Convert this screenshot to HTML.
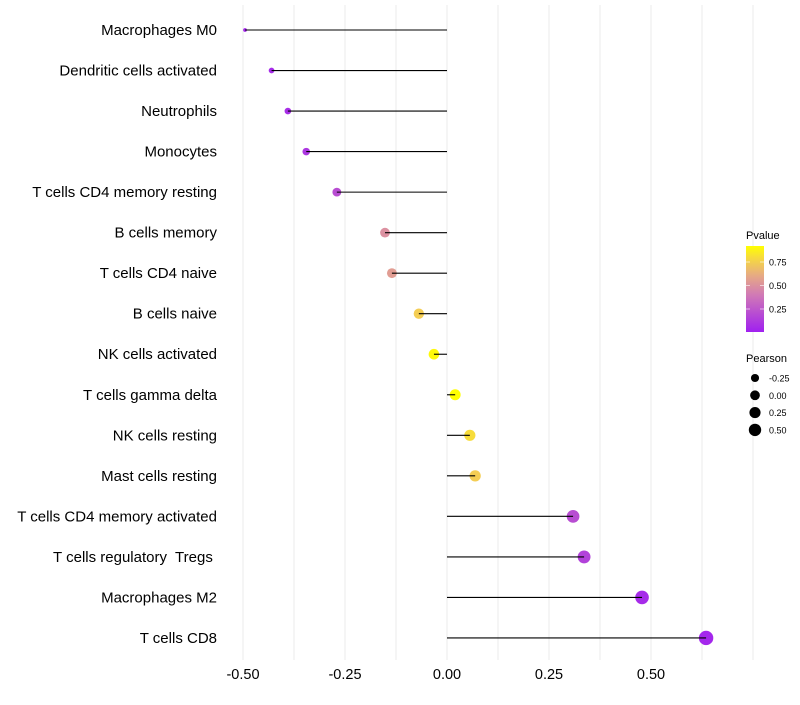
<!DOCTYPE html>
<html><head><meta charset="utf-8"><style>
body{margin:0;background:#fff;font-family:"Liberation Sans",sans-serif}
text{white-space:pre}
</style></head><body>
<svg id="c" width="800" height="700" style="font-family:'Liberation Sans',sans-serif"></svg>
<script>
const categories=["Macrophages M0","Dendritic cells activated","Neutrophils","Monocytes","T cells CD4 memory resting","B cells memory","T cells CD4 naive","B cells naive","NK cells activated","T cells gamma delta","NK cells resting","Mast cells resting","T cells CD4 memory activated","T cells regulatory  Tregs ","Macrophages M2","T cells CD8"];
const pearson=[-0.495,-0.43,-0.39,-0.345,-0.27,-0.152,-0.135,-0.069,-0.032,0.02,0.056,0.069,0.309,0.336,0.478,0.635];
const pvalue=[0.03,0.05,0.06,0.1,0.2,0.5,0.55,0.75,0.9,0.95,0.8,0.75,0.2,0.15,0.05,0.03];
const xTicks=[-0.5,-0.25,0,0.25,0.5];
const xTickLabels=["-0.50","-0.25","0.00","0.25","0.50"];
const colorTicks=[0.25,0.5,0.75];
const sizeTicks=[-0.25,0,0.25,0.5];
const sizeTickLabels=["-0.25","0.00","0.25","0.50"];

const NS="http://www.w3.org/2000/svg",svg=document.getElementById('c');
function mk(t,a,p){const e=document.createElementNS(NS,t);for(const k in a)e.setAttribute(k,a[k]);(p||svg).appendChild(e);return e;}
const xs=v=>447+v*408;
const ys=i=>30+i*40.53;
function rs(v){let a=v>=-0.27?30+36*(v-0.02):30+36*(-0.29)+71*(v+0.27);return Math.sqrt(Math.max(3,a));}
function lerp(a,b,t){return a.map((x,i)=>Math.round(x+(b[i]-x)*t));}
const PMAX=0.92;
function col(p){const q=Math.min(1,p/PMAX);const s=[[0,[160,32,240]],[0.5,[216,136,172]],[0.78,[242,196,100]],[1,[255,255,0]]];
 for(let i=1;i<s.length;i++)if(q<=s[i][0]){const t=(q-s[i-1][0])/(s[i][0]-s[i-1][0]);const c=lerp(s[i-1][1],s[i][1],t);return `rgb(${c})`;}
 return 'rgb(255,255,0)';}
for(let v=-0.5;v<=0.76;v+=0.125){const g=mk('line',{x1:xs(v),x2:xs(v),y1:5,y2:660,stroke:'#ebebeb','stroke-width':1});
}
categories.forEach((c,i)=>{
 const y=ys(i);
 const t=mk('text',{x:217,y:y+5,'text-anchor':'end','font-size':15,fill:'#000'});t.textContent=c;
 
 const d=mk('circle',{cx:xs(pearson[i]),cy:y,r:rs(pearson[i]),fill:col(pvalue[i])});
 
 const l=mk('line',{x1:xs(0),x2:xs(pearson[i]),y1:y,y2:y,stroke:'#000','stroke-width':1.1});
 
});
xTicks.forEach((v,i)=>{const t=mk('text',{x:xs(v),y:679,'text-anchor':'middle','font-size':14.5,fill:'#000'});t.textContent=xTickLabels[i];
});
const lt=mk('text',{x:746,y:239,'font-size':11,fill:'#000'});lt.textContent='Pvalue';

const defs=mk('defs',{});const gr=mk('linearGradient',{id:'g',x1:0,y1:1,x2:0,y2:0},defs);
[0,0.2,0.4,0.6,0.8,PMAX].forEach(p=>mk('stop',{offset:p/PMAX,'stop-color':col(p)},gr));
const bar=mk('rect',{x:746,y:246,width:18,height:86,fill:'url(#g)'});

colorTicks.forEach(v=>{const y=332.5-v*94;
 mk('line',{x1:746,x2:750,y1:y,y2:y,stroke:'#fff','stroke-opacity':0.6});mk('line',{x1:760,x2:764,y1:y,y2:y,stroke:'#fff','stroke-opacity':0.6});
 const t=mk('text',{x:769,y:y+3.5,'font-size':9,fill:'#000'});t.textContent=v.toFixed(2);
 });
const st=mk('text',{x:746,y:362,'font-size':11,fill:'#000'});st.textContent='Pearson';

sizeTicks.forEach((v,i)=>{const y=378+i*17.3;
 const c=mk('circle',{cx:755,cy:y,r:rs(v)*0.9,fill:'#000'});
 const t=mk('text',{x:769,y:y+3.5,'font-size':9,fill:'#000'});t.textContent=sizeTickLabels[i];
 });
</script>
</body></html>
